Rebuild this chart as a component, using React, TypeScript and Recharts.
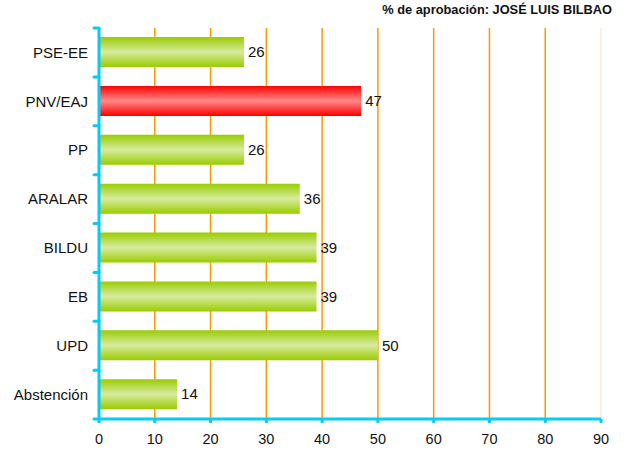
import { BarChart, Bar, XAxis, YAxis, CartesianGrid, Cell, LabelList } from "recharts";

const parties = ["PSE-EE", "PNV/EAJ", "PP", "ARALAR", "BILDU", "EB", "UPD", "Abstención"];
const approval = [26, 47, 26, 36, 39, 39, 50, 14];
const highlighted = "PNV/EAJ";
const xTicks = [0, 10, 20, 30, 40, 50, 60, 70, 80, 90];
const title = "% de aprobación: JOSÉ LUIS BILBAO";

const WIDTH = 629;
const HEIGHT = 451;
const MARGIN = { top: 28, right: 28, bottom: 2, left: 0 };
const X_AXIS_H = 30;
const Y_AXIS_W = 99;
const BAND = (HEIGHT - MARGIN.top - MARGIN.bottom - X_AXIS_H) / parties.length;
const AXIS = "#00CCFF";
const FONT = "'Liberation Sans', Arial, sans-serif";

const data = parties.map((party, i) => ({ party, value: approval[i] }));

function PartyTick(props: any) {
  const { x, y, payload, index } = props;
  const last = index === parties.length - 1;
  return (
    <g>
      <line x1={x - 5} x2={x} y1={y - BAND / 2} y2={y - BAND / 2} stroke={AXIS} strokeWidth={3} strokeLinecap="round" />
      {last && (
        <line x1={x - 5} x2={x} y1={y + BAND / 2} y2={y + BAND / 2} stroke={AXIS} strokeWidth={3} strokeLinecap="round" />
      )}
      <text x={x - 11} y={y} dy="0.35em" textAnchor="end" fontSize={15} fill="#111" fontFamily={FONT}>
        {payload.value}
      </text>
    </g>
  );
}

function GridLine(props: any) {
  const { x1, x2, y1, y2 } = props;
  const right = WIDTH - MARGIN.right;
  if (x1 <= Y_AXIS_W + 2) return <g />;
  const faint = x1 >= right - 2;
  return <line x1={x1} x2={x2} y1={y1} y2={y2} stroke={faint ? "#FDEBD8" : "#FF9900"} strokeWidth={1.5} />;
}

export default function App() {
  return (
    <div style={{ position: "absolute", left: 0, top: 0, width: WIDTH, height: HEIGHT, background: "#fff" }}>
      <div
        style={{
          position: "absolute",
          right: 17,
          top: 2,
          fontFamily: FONT,
          fontWeight: "bold",
          fontSize: 12.8,
          color: "#111",
        }}
      >
        {title}
      </div>
      <BarChart width={WIDTH} height={HEIGHT} data={data} layout="vertical" margin={MARGIN}>
        <defs>
          <linearGradient id="green" x1="0" y1="0" x2="0" y2="1">
            <stop offset="0%" stopColor="#99CC00" />
            <stop offset="50%" stopColor="#D8EBA0" />
            <stop offset="100%" stopColor="#99CC00" />
          </linearGradient>
          <linearGradient id="red" x1="0" y1="0" x2="0" y2="1">
            <stop offset="0%" stopColor="#FF0000" />
            <stop offset="50%" stopColor="#FF8A8A" />
            <stop offset="100%" stopColor="#FF0000" />
          </linearGradient>
        </defs>
        <CartesianGrid horizontal={false} vertical={GridLine} />
        <XAxis
          type="number"
          domain={[0, 90]}
          ticks={xTicks}
          interval={0}
          height={X_AXIS_H}
          axisLine={{ stroke: AXIS, strokeWidth: 3 }}
          tickLine={{ stroke: AXIS, strokeWidth: 3 }}
          tickSize={4}
          tickMargin={11}
          tick={{ fontSize: 14.5, fill: "#111", fontFamily: FONT }}
        />
        <YAxis
          type="category"
          dataKey="party"
          width={Y_AXIS_W}
          axisLine={{ stroke: AXIS, strokeWidth: 3 }}
          tickLine={false}
          tickSize={0}
          tickMargin={0}
          tick={<PartyTick />}
          interval={0}
        />
        <Bar dataKey="value" barSize={30} isAnimationActive={false}>
          {data.map((d) => (
            <Cell key={d.party} fill={d.party === highlighted ? "url(#red)" : "url(#green)"} />
          ))}
          <LabelList dataKey="value" position="right" offset={4} fontSize={15} fill="#111" fontFamily={FONT} />
        </Bar>
      </BarChart>
    </div>
  );
}
